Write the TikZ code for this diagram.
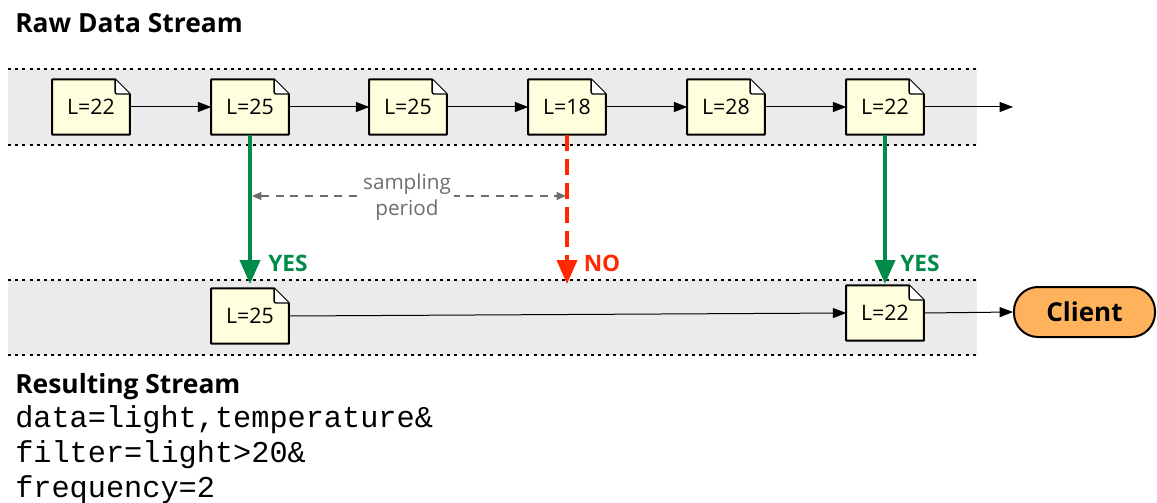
\documentclass[tikz,border=0pt]{standalone}
\usepackage{fontspec}
\setmainfont{Open Sans}
\setmonofont{Liberation Mono}
\usetikzlibrary{arrows.meta,calc}
\definecolor{bandgray}{RGB}{235,235,235}
\definecolor{docyellow}{RGB}{255,255,221}
\definecolor{yesgreen}{RGB}{0,140,72}
\definecolor{nored}{RGB}{255,40,0}
\definecolor{clientorange}{RGB}{255,178,92}
\definecolor{periodgray}{RGB}{110,110,110}
\pgfdeclarelayer{band}
\pgfdeclarelayer{docs}
\pgfsetlayers{band,docs,main}
\newcommand\docshape[1]{%
  \begin{pgfonlayer}{docs}
    \filldraw[fill=docyellow,line width=1.5pt,line join=round]
      (#1.north west) -- ([xshift=-11pt]#1.north east) -- ([yshift=-11pt]#1.north east)
      -- (#1.south east) -- (#1.south west) -- cycle;
    \filldraw[fill=white,line width=1pt,line join=round,rounded corners=1.5pt]
      ([xshift=-11pt]#1.north east) -- ([xshift=-11pt,yshift=-11pt]#1.north east)
      -- ([yshift=-11pt]#1.north east);
  \end{pgfonlayer}}
\tikzset{
  docbox/.style={minimum width=57.75pt,minimum height=41pt,inner sep=0pt,
    font=\fontsize{16}{18}\selectfont},
  flow/.style={line width=0.75pt,-{Triangle[length=10pt,width=7.5pt]}},
  dotline/.style={line width=1.5pt,dash pattern=on 2.2pt off 3.2pt},
  yesarrow/.style={draw=yesgreen,line width=3pt,-{Triangle[length=18pt,width=15pt]}},
  noarrow/.style={draw=nored,line width=3pt,dash pattern=on 12pt off 6pt,
    -{Triangle[length=18pt,width=15pt]}},
  verdict/.style={font=\bfseries\fontsize{17}{19}\selectfont},
  title/.style={font=\bfseries\fontsize{19.8}{22}\selectfont,anchor=base west,inner sep=0pt},
  monoline/.style={font=\ttfamily\fontsize{22.7}{26}\selectfont,anchor=base west,inner sep=0pt},
  client/.style={draw,line width=1.5pt,fill=clientorange,rounded corners=18pt,
    minimum width=105.75pt,minimum height=37.5pt,inner sep=0pt,
    font=\bfseries\fontsize{19.5}{21}\selectfont},
  period/.style={draw=periodgray,line width=1pt,dash pattern=on 6pt off 5pt,
    {Triangle[length=7pt,width=6pt]}-{Triangle[length=7pt,width=6pt]}},
}
\begin{document}
\begin{tikzpicture}[x=0.75pt,y=-0.75pt]
\useasboundingbox (0,0) rectangle (1157,503);
% bands
\begin{pgfonlayer}{band}
\fill[bandgray] (8,69) rectangle (977,145);
\fill[bandgray] (8,280) rectangle (977,355);
\end{pgfonlayer}
\draw[dotline] (8,69) -- (977,69);
\draw[dotline] (8,145) -- (977,145);
\draw[dotline] (8,280) -- (977,280);
\draw[dotline] (8,355) -- (977,355);
% titles
\node[title] (rawtitle) at (15,33) {Raw Data Stream};
\node[title] (restitle) at (15,393) {Resulting Stream};
\node[monoline] (m1) at (15,427) {data=light,temperature\&};
\node[monoline] (m2) at (15,462) {filter=light>20\&};
\node[monoline] (m3) at (15,497) {frequency=2};
% top stream
\node[docbox] (t1) at (91,107) {L=22};
\node[docbox] (t2) at (250,107) {L=25};
\node[docbox] (t3) at (408,107) {L=25};
\node[docbox] (t4) at (567,107) {L=18};
\node[docbox] (t5) at (726,107) {L=28};
\node[docbox] (t6) at (885,107) {L=22};
\foreach \n in {t1,t2,t3,t4,t5,t6} {\docshape{\n}}
\coordinate (tend) at (1013,107);
\draw[flow] (t1.east) -- (t2.west);
\draw[flow] (t2.east) -- (t3.west);
\draw[flow] (t3.east) -- (t4.west);
\draw[flow] (t4.east) -- (t5.west);
\draw[flow] (t5.east) -- (t6.west);
\draw[flow] (t6.east) -- (tend);
% bottom stream
\node[docbox] (b1) at (250,316) {L=25};
\node[docbox] (b2) at (885,313) {L=22};
\docshape{b1}
\docshape{b2}
\node[client] (client) at (1084.5,312) {Client};
\draw[flow] (b1.east) -- (b2.west);
\draw[flow] (b2.east) -- (client.west);
% decisions
\coordinate (yes1) at (250,284);
\coordinate (no1) at (567,284);
\coordinate (yes2) at (885,284);
\draw[yesarrow] (t2.south) -- (yes1);
\draw[noarrow] (t4.south) -- (no1);
\draw[yesarrow] (t6.south) -- (yes2);
\node[verdict,text=yesgreen] (yeslab1) at (288,263) {YES};
\node[verdict,text=nored] (nolab) at (602,263) {NO};
\node[verdict,text=yesgreen] (yeslab2) at (920,263) {YES};
% sampling period
\coordinate (pl) at (252,196);
\coordinate (pr) at (566,196);
\draw[period] (pl) -- (pr);
\node[fill=white,text=periodgray,align=center,inner sep=2pt,
  font=\fontsize{15.5}{20}\selectfont] (plab) at (407,197) {sampling\\period};
\end{tikzpicture}
\end{document}
